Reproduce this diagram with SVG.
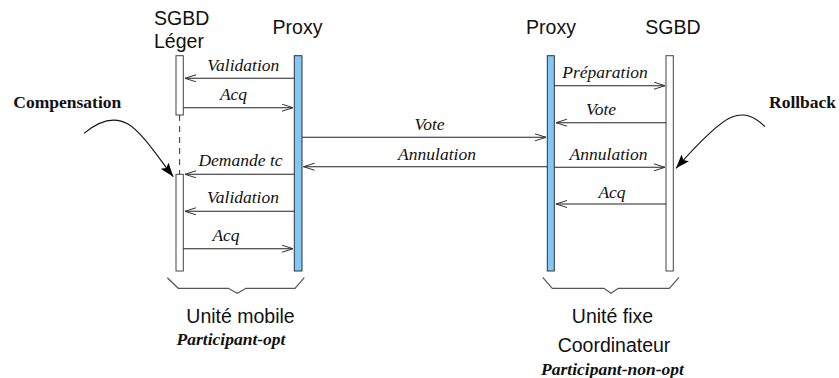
<svg xmlns="http://www.w3.org/2000/svg" width="839" height="378" viewBox="0 0 839 378">
<style>
.hdr{font-family:"Liberation Sans",Arial,sans-serif;font-size:19.5px;fill:#111}
.msg{font-family:"Liberation Serif","Times New Roman",serif;font-style:italic;font-size:17.5px;fill:#111;text-anchor:middle}
.note{font-family:"Liberation Serif","Times New Roman",serif;font-weight:bold;font-size:17.5px;fill:#111}
.sub{font-family:"Liberation Serif","Times New Roman",serif;font-weight:bold;font-style:italic;font-size:17.5px;fill:#111;text-anchor:middle}
.lbl{font-family:"Liberation Sans",Arial,sans-serif;font-size:19.5px;fill:#111;text-anchor:middle}
.wbar{fill:#fff;stroke:#444;stroke-width:1}
.bbar{fill:#80c8f8;stroke:#333;stroke-width:1}
.m{stroke:#222;stroke-width:1.1;fill:none;marker-end:url(#open)}
.curve{stroke:#111;stroke-width:1.1;fill:none;marker-end:url(#solid)}
.brace{stroke:#555;stroke-width:1.2;fill:none}
</style>
<defs>
<marker id="open" markerUnits="userSpaceOnUse" markerWidth="14" markerHeight="10" refX="11" refY="4" orient="auto">
<path d="M0,0.5 L11,4 L0,7.5" fill="none" stroke="#333" stroke-width="1"/>
</marker>
<marker id="solid" markerUnits="userSpaceOnUse" markerWidth="16" markerHeight="12" refX="14" refY="5" orient="auto">
<path d="M0,0 L14,5 L0,10 L3,5 Z" fill="#000"/>
</marker>
</defs>

<g id="hdr-sgbd-leger">
<text class="hdr" x="154" y="25">SGBD</text>
<text class="hdr" x="154" y="48">Léger</text>
</g>
<g id="hdr-proxy-left"><text class="lbl" x="297.5" y="34">Proxy</text></g>
<g id="hdr-proxy-right"><text class="lbl" x="551" y="34">Proxy</text></g>
<g id="hdr-sgbd-right"><text class="lbl" x="673" y="34">SGBD</text></g>

<g id="sgbd-leger">
<rect class="wbar" x="176" y="55.7" width="7.3" height="59.3"/>
<line x1="179.6" y1="115" x2="179.6" y2="174.3" stroke="#444" stroke-width="1.1" stroke-dasharray="6,5"/>
<rect class="wbar" x="176" y="174.3" width="7.3" height="96.7"/>
</g>
<g id="proxy-mobile"><rect class="bbar" x="294.3" y="55.7" width="7.7" height="215.3"/></g>
<g id="proxy-fixe"><rect class="bbar" x="547.3" y="55.7" width="7" height="215.3"/></g>
<g id="sgbd-fixe"><rect class="wbar" x="666" y="55.7" width="7.3" height="215.3"/></g>

<g id="connectors">
<line class="m" x1="294.3" y1="78.3" x2="185" y2="78.3"/>
<line class="m" x1="183.3" y1="107.7" x2="293" y2="107.7"/>
<line class="m" x1="294.3" y1="174.3" x2="185" y2="174.3"/>
<line class="m" x1="294.3" y1="211.3" x2="185" y2="211.3"/>
<line class="m" x1="183.3" y1="248.7" x2="293" y2="248.7"/>
<line class="m" x1="302" y1="137.3" x2="546" y2="137.3"/>
<line class="m" x1="547.3" y1="166.7" x2="303.5" y2="166.7"/>
<line class="m" x1="554.3" y1="85.7" x2="665" y2="85.7"/>
<line class="m" x1="666" y1="122.7" x2="556" y2="122.7"/>
<line class="m" x1="554.3" y1="167.3" x2="665" y2="167.3"/>
<line class="m" x1="666" y1="204" x2="556" y2="204"/>
<path class="curve" d="M84,133.3 C100,120 114,116 128,124 S160,160 173.3,176.7"/>
<path class="curve" d="M765,126.7 C755,117 745,112 732,117 S694,148 676,168.3"/>
</g>

<g id="msg-labels">
<text class="msg" x="243.3" y="70.5">Validation</text>
<text class="msg" x="233.5" y="100">Acq</text>
<text class="msg" x="240.5" y="166">Demande tc</text>
<text class="msg" x="243" y="203">Validation</text>
<text class="msg" x="226" y="241">Acq</text>
<text class="msg" x="429.5" y="130">Vote</text>
<text class="msg" x="437" y="160">Annulation</text>
<text class="msg" x="605" y="77.5">Préparation</text>
<text class="msg" x="601" y="115">Vote</text>
<text class="msg" x="608.5" y="160">Annulation</text>
<text class="msg" x="612" y="197.5">Acq</text>
</g>

<g id="note-compensation"><text class="note" x="13.3" y="107.7">Compensation</text></g>
<g id="note-rollback"><text class="note" x="769" y="107.7">Rollback</text></g>

<g id="unite-mobile">
<path class="brace" d="M167.3,277.7 L178.3,288.3 L228.3,288.3 L237.3,293.3 L246,288.3 L295,288.3 L304.3,277.7"/>
<text class="lbl" x="240.5" y="323">Unité mobile</text>
<text class="sub" x="231" y="345">Participant-opt</text>
</g>
<g id="unite-fixe">
<path class="brace" d="M542.7,277.3 L552.3,288.3 L604,288.3 L611,293.3 L618.3,288.3 L669.3,288.3 L679,277.3"/>
<text class="lbl" x="612.5" y="323.3">Unité fixe</text>
<text class="lbl" x="614" y="352.3">Coordinateur</text>
<text class="sub" x="612.5" y="375">Participant-non-opt</text>
</g>
</svg>
